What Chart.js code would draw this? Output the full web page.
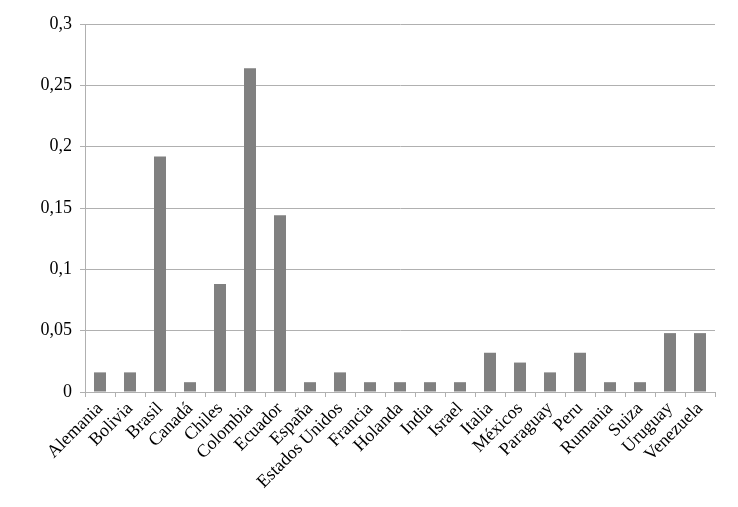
<!DOCTYPE html>
<html>
<head>
<meta charset="utf-8">
<script src="https://cdn.jsdelivr.net/npm/chart.js@4/dist/chart.umd.min.js"></script>
<style>
html,body{margin:0;padding:0;background:#fff;}
#wrap{width:738px;height:507px;position:relative;}
</style>
</head>
<body>
<div id="wrap"><canvas id="c"></canvas></div>
<script>
const categories = ["Alemania","Bolivia","Brasil","Canadá","Chiles","Colombia","Ecuador","España","Estados Unidos","Francia","Holanda","India","Israel","Italia","Méxicos","Paraguay","Peru","Rumania","Suiza","Uruguay","Venezuela"];
const values = [0.016,0.016,0.192,0.008,0.088,0.264,0.144,0.008,0.016,0.008,0.008,0.008,0.008,0.032,0.024,0.016,0.032,0.008,0.008,0.048,0.048];
const yTicks = [0,0.05,0.1,0.15,0.2,0.25,0.3];

const fmt = v => String(Math.round(v*1000)/1000).replace('.', ',');
const FAMILY = "'Liberation Serif', 'Times New Roman', serif";

function draw() {
  new Chart(document.getElementById('c'), {
    type: 'bar',
    data: {
      labels: categories,
      datasets: [{
        data: values,
        backgroundColor: '#808080',
        borderWidth: 0,
        categoryPercentage: 1,
        barPercentage: 0.4
      }]
    },
    options: {
      responsive: true,
      maintainAspectRatio: false,
      animation: false,
      devicePixelRatio: 1,
      layout: { padding: { left: 0, right: 23, top: 24, bottom: 0 } },
      plugins: { legend: { display: false }, tooltip: { enabled: false } },
      scales: {
        x: {
          grid: { drawOnChartArea: false, drawTicks: true, tickLength: 5, color: '#b0b0b0' },
          border: { color: '#b0b0b0', width: 1 },
          ticks: {
            color: '#000',
            font: { family: FAMILY, size: 18 },
            minRotation: 45, maxRotation: 45,
            autoSkip: false,
            padding: 1
          },
          afterFit: s => { s.height = 115; }
        },
        y: {
          min: 0, max: 0.3,
          afterBuildTicks: s => { s.ticks = yTicks.map(v => ({ value: v })); },
          grid: { color: '#b0b0b0', tickLength: 5, drawTicks: true },
          border: { color: '#b0b0b0', width: 1 },
          ticks: {
            color: '#000',
            font: { family: FAMILY, size: 18 },
            padding: 8,
            callback: v => fmt(v)
          },
          afterFit: s => { s.width = 85; }
        }
      }
    }
  });
}
if (document.fonts && document.fonts.load) {
  document.fonts.load("18px 'Liberation Serif'").then(draw, draw);
} else { draw(); }
</script>
</body>
</html>
